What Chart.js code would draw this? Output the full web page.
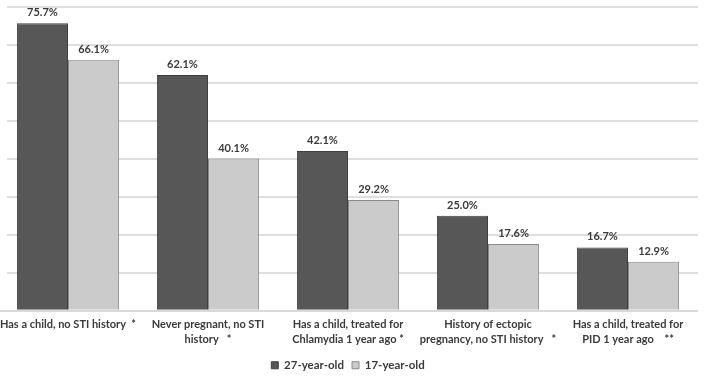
<!DOCTYPE html>
<html>
<head>
<meta charset="utf-8">
<script src="https://cdn.jsdelivr.net/npm/chart.js@4"></script>
<style>
  html, body { margin: 0; padding: 0; background: #fff; overflow: hidden; }
  #wrap { position: absolute; left: -2px; top: 0; width: 700px; height: 376px; }
</style>
</head>
<body>
<div id="wrap"><canvas id="chart"></canvas></div>
<script>
var categories = [
    "Has a child, no STI history  *",
    ["Never pregnant, no STI", "history   *"],
    ["Has a child, treated for", "Chlamydia 1 year ago *"],
    ["History of ectopic", "pregnancy, no STI history   *"],
    ["Has a child, treated for", "PID 1 year ago    **"]
];
var age27 = [75.7, 62.1, 42.1, 25.0, 16.7];
var age17 = [66.1, 40.1, 29.2, 17.6, 12.9];
var seriesNames = ["27-year-old", "17-year-old"];

var font = "Lato, 'Liberation Sans', sans-serif";

// value labels over each bar
var valueLabels = {
    id: 'valueLabels',
    afterDatasetsDraw: function (chart) {
        var ctx = chart.ctx;
        ctx.save();
        ctx.font = "bold 11px " + font;
        ctx.fillStyle = "#3a3a3a";
        ctx.textAlign = "center";
        ctx.textBaseline = "alphabetic";
        chart.data.datasets.forEach(function (ds, i) {
            chart.getDatasetMeta(i).data.forEach(function (bar, j) {
                ctx.fillText(ds.data[j].toFixed(1) + "%", bar.x, bar.y - 7);
            });
        });
        ctx.restore();
    }
};

// the plot area starts a little left of the page, keep the grid off that strip
var gridMask = {
    id: 'gridMask',
    beforeDatasetsDraw: function (chart) {
        var ctx = chart.ctx;
        ctx.save();
        ctx.fillStyle = "#fff";
        ctx.fillRect(0, 0, 9, chart.chartArea.bottom - 1);
        ctx.restore();
    }
};

var ctx = document.getElementById('chart').getContext('2d');

var chart = new Chart(ctx, {
    type: 'bar',
    data: {
        labels: categories,
        datasets: [{
            label: seriesNames[0],
            data: age27,
            backgroundColor: "#575757",
            borderColor: "#3f3f3f",
            borderWidth: 1,
            barPercentage: 1,
            categoryPercentage: 0.73
        }, {
            label: seriesNames[1],
            data: age17,
            backgroundColor: "#cbcbcb",
            borderColor: "#8a8a8a",
            borderWidth: 1,
            barPercentage: 1,
            categoryPercentage: 0.73
        }]
    },
    options: {
        responsive: true,
        maintainAspectRatio: false,
        animation: false,
        layout: {
            padding: { top: 7, left: 0, right: 0, bottom: -5 }
        },
        scales: {
            x: {
                grid: { display: false, drawTicks: false },
                border: { color: "#d9d9d9", width: 2 },
                afterFit: function (scale) {
                    // let the outer labels hang over the edges like the original
                    scale.paddingLeft = 0;
                    scale.paddingRight = 0;
                    scale.height -= 1;
                },
                ticks: {
                    color: "#3a3a3a",
                    maxRotation: 0,
                    autoSkip: false,
                    padding: 6,
                    font: { family: font, size: 11, weight: 'bold', lineHeight: 1.35 }
                }
            },
            y: {
                min: 0,
                max: 80,
                ticks: { display: false, stepSize: 10 },
                grid: { color: "#dedede", lineWidth: 2, drawTicks: false },
                border: { display: false }
            }
        },
        plugins: {
            legend: {
                position: 'bottom',
                labels: {
                    boxWidth: 7,
                    boxHeight: 7,
                    padding: 8,
                    color: "#3a3a3a",
                    font: { family: font, size: 11.5, weight: 'bold' }
                }
            },
            tooltip: { enabled: false }
        }
    },
    plugins: [valueLabels, gridMask]
});
</script>
</body>
</html>
